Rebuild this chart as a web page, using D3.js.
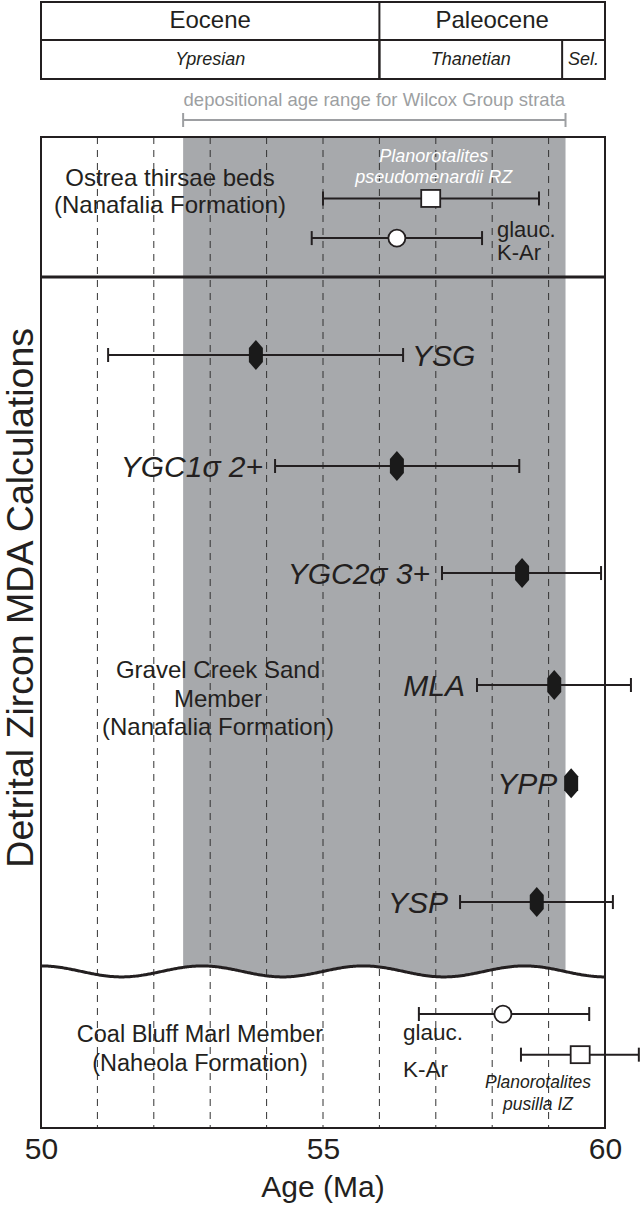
<!DOCTYPE html>
<html><head><meta charset="utf-8">
<script src="https://cdn.jsdelivr.net/npm/d3@7"></script>
<style>body{margin:0;background:#fff}svg{display:block}text{font-family:"Liberation Sans",Arial,Helvetica,sans-serif}</style>
</head><body><svg id="c" width="641" height="1206"></svg>
<script>
// ---- data ----
const ageTicks = [50, 55, 60];
const gridAges = [51, 52, 53, 54, 55, 56, 57, 58, 59];
const epochs = ["Eocene", "Paleocene"];
const epochStart = [50, 56.0];
const epochEnd = [56.0, 60];
const stages = ["Ypresian", "Thanetian", "Sel."];
const stageStart = [50, 56.0, 59.24];
const stageEnd = [56.0, 59.24, 60];
const wilcoxRange = [52.52, 59.3];

// MDA calculations (Ma); level = vertical position in % of plot frame
const mdaLabels = ["YSG", "YGC1σ 2+", "YGC2σ 3+", "MLA", "YPP", "YSP"];
const mdaAge  = [53.81, 56.31, 58.53, 59.10, 59.40, 58.79];
const mdaLow  = [51.19, 54.15, 57.11, 57.73, null, 57.43];
const mdaHigh = [56.42, 58.48, 59.93, 60.46, null, 60.14];
const mdaLevel = [22.0, 33.2, 44.0, 55.3, 65.2, 77.2];

// biostratigraphic / glauconite ages
const refNames  = ["Planorotalites pseudomenardii RZ", "glauc. K-Ar (Ostrea)", "glauc. K-Ar (Coal Bluff)", "Planorotalites pusilla IZ"];
const refShape  = ["square", "circle", "circle", "square"];
const refAge    = [56.91, 56.31, 58.19, 59.56];
const refLow    = [55.00, 54.80, 56.70, 58.51];
const refHigh   = [58.83, 57.82, 59.72, 60.60];
const refLevel  = [6.2, 10.2, 88.5, 92.6];

const dividerLevel = 14.13;
const waveLevel = 84.2;

// ---- layout ----
const svg = d3.select("#c");
const L = 41, R = 605, T = 137, B = 1128;
const x = d3.scaleLinear().domain([50, 60]).range([L, R]);
const y = d3.scaleLinear().domain([0, 100]).range([T, B]);
const ink = "#231f20";
const font = '"Liberation Sans",Arial,Helvetica,sans-serif';

// header table
const hTop = 2, hMid = 40, hBot = 79;
const hdr = svg.append("g");
hdr.append("rect").attr("x", x(50)).attr("y", hTop).attr("width", x(60) - x(50)).attr("height", hBot - hTop)
  .attr("fill", "none").attr("stroke", ink).attr("stroke-width", 2);
hdr.append("line").attr("x1", x(50)).attr("x2", x(60)).attr("y1", hMid).attr("y2", hMid).attr("stroke", ink).attr("stroke-width", 2);
epochEnd.slice(0, -1).forEach(v => hdr.append("line").attr("x1", x(v)).attr("x2", x(v)).attr("y1", hTop).attr("y2", hBot).attr("stroke", ink).attr("stroke-width", 2));
stageEnd.slice(0, -1).forEach(v => hdr.append("line").attr("x1", x(v)).attr("x2", x(v)).attr("y1", hMid).attr("y2", hBot).attr("stroke", ink).attr("stroke-width", 2));
hdr.selectAll("text.ep").data(epochs).join("text").attr("class", "ep")
  .attr("x", (d, i) => (x(epochStart[i]) + x(epochEnd[i])) / 2).attr("y", 28)
  .attr("text-anchor", "middle").attr("font-size", 24).attr("fill", ink).text(d => d);
hdr.selectAll("text.st").data(stages).join("text").attr("class", "st")
  .attr("x", (d, i) => (x(stageStart[i]) + x(stageEnd[i])) / 2).attr("y", 65)
  .attr("text-anchor", "middle").attr("font-size", 18).attr("font-style", "italic").attr("fill", ink).text(d => d);

// wilcox range bracket
const brY = 120;
const gb = "#9d9fa2";
svg.append("text").attr("x", (x(wilcoxRange[0]) + x(wilcoxRange[1])) / 2).attr("y", 106)
  .attr("text-anchor", "middle").attr("font-size", 18.5).attr("fill", gb).text("depositional age range for Wilcox Group strata");
svg.append("line").attr("x1", x(wilcoxRange[0])).attr("x2", x(wilcoxRange[1])).attr("y1", brY).attr("y2", brY).attr("stroke", gb).attr("stroke-width", 2);
wilcoxRange.forEach(v => svg.append("line").attr("x1", x(v)).attr("x2", x(v)).attr("y1", brY - 7).attr("y2", brY + 7).attr("stroke", gb).attr("stroke-width", 2));

// gray band
const waveY = y(waveLevel);
svg.append("rect").attr("x", x(wilcoxRange[0])).attr("y", T).attr("width", x(wilcoxRange[1]) - x(wilcoxRange[0]))
  .attr("height", waveY + 10 - T).attr("fill", "#a7a9ac");

// wave
const period = (R - L) / 3.5, amp = 5.5;
const wavePts = d3.range(L, R + 0.5, 2).map(px => [px, waveY - amp * Math.cos(2 * Math.PI * (px - L) / period)]);
const area = d3.area().x(d => d[0]).y0(d => d[1]).y1(B).curve(d3.curveBasis);
svg.append("path").attr("d", area(wavePts)).attr("fill", "#fff");

// dashed grid
svg.selectAll("line.grid").data(gridAges).join("line").attr("class", "grid")
  .attr("x1", d => x(d)).attr("x2", d => x(d)).attr("y1", T).attr("y2", B)
  .attr("stroke", "#333").attr("stroke-width", 1).attr("stroke-dasharray", "7,6");

// wave line
svg.append("path").attr("d", d3.line().curve(d3.curveBasis)(wavePts)).attr("fill", "none").attr("stroke", ink).attr("stroke-width", 3);

// frame + divider
svg.append("rect").attr("x", L).attr("y", T).attr("width", R - L).attr("height", B - T).attr("fill", "none").attr("stroke", ink).attr("stroke-width", 2);
svg.append("line").attr("x1", L).attr("x2", R).attr("y1", y(dividerLevel)).attr("y2", y(dividerLevel)).attr("stroke", ink).attr("stroke-width", 3);

// error bars helper
function errBar(g, lo, hi, yy) {
  g.append("line").attr("x1", x(lo)).attr("x2", x(hi)).attr("y1", yy).attr("y2", yy).attr("stroke", ink).attr("stroke-width", 2);
  [lo, hi].forEach(v => g.append("line").attr("x1", x(v)).attr("x2", x(v)).attr("y1", yy - 7).attr("y2", yy + 7).attr("stroke", ink).attr("stroke-width", 2));
}

// reference ages
const refG = svg.append("g");
refAge.forEach((a, i) => {
  const yy = y(refLevel[i]);
  errBar(refG, refLow[i], refHigh[i], yy);
  if (refShape[i] === "circle") {
    refG.append("circle").attr("cx", x(a)).attr("cy", yy).attr("r", 8.5).attr("fill", "#fff").attr("stroke", ink).attr("stroke-width", 1.8);
  } else {
    refG.append("rect").attr("x", x(a) - 9.5).attr("y", yy - 8.5).attr("width", 19).attr("height", 17).attr("fill", "#fff").attr("stroke", ink).attr("stroke-width", 1.8);
  }
});

// MDA diamonds
const mdaG = svg.append("g");
const hex = (cx, cy) => `M${cx},${cy - 15}L${cx + 7},${cy - 7}L${cx + 7},${cy + 7}L${cx},${cy + 15}L${cx - 7},${cy + 7}L${cx - 7},${cy - 7}Z`;
mdaAge.forEach((a, i) => {
  const yy = y(mdaLevel[i]);
  if (mdaLow[i] != null) errBar(mdaG, mdaLow[i], mdaHigh[i], yy);
  mdaG.append("path").attr("d", hex(x(a), yy)).attr("fill", "#1a1a1a");
  const t = mdaG.append("text").attr("y", yy + 11).attr("font-size", 30).attr("font-style", "italic").attr("fill", ink).text(mdaLabels[i]);
  if (i === 0) t.attr("x", x(mdaHigh[i]) + 9).attr("text-anchor", "start");
  else if (mdaLow[i] == null) t.attr("x", x(a) - 14).attr("text-anchor", "end");
  else t.attr("x", x(mdaLow[i]) - 12).attr("text-anchor", "end");
});

// annotations
function lines(arr, cx, y0, dy, size, opts = {}) {
  arr.forEach((s, i) => {
    const t = svg.append("text").attr("x", cx).attr("y", y0 + i * dy).attr("font-size", size)
      .attr("text-anchor", opts.anchor || "middle").attr("fill", opts.fill || ink).text(s);
    if (opts.italic) t.attr("font-style", "italic");
  });
}
lines(["Ostrea thirsae beds", "(Nanafalia Formation)"], 170, 186, 27, 24);
lines(["Planorotalites", "pseudomenardii RZ"], x(refAge[0]) + 3, 162, 21, 18, {italic: true, fill: "#fff"});
lines(["glauc.", "K-Ar"], 497, 237, 23, 22, {anchor: "start"});
lines(["Gravel Creek Sand", "Member", "(Nanafalia Formation)"], 218, 678, 28.5, 24);
lines(["Coal Bluff Marl Member", "(Naheola Formation)"], 200, 1042, 29, 23.5);
lines(["glauc.", "K-Ar"], 403, 1040, 37, 22.5, {anchor: "start"});
lines(["Planorotalites", "pusilla IZ"], 538, 1088, 22, 17.5, {italic: true});

// axis
const ax = d3.axisBottom(x).tickValues(ageTicks).tickSize(0).tickPadding(10).tickFormat(d3.format("d"));
const axG = svg.append("g").attr("transform", `translate(0,${B})`).call(ax);
axG.select(".domain").remove();
axG.selectAll("text").attr("font-size", 30).attr("font-family", font).attr("fill", ink);
svg.append("text").attr("x", x(55)).attr("y", 1197).attr("text-anchor", "middle").attr("font-size", 30).attr("fill", ink).text("Age (Ma)");
svg.append("text").attr("transform", `translate(33,${y(46.5)}) rotate(-90)`).attr("text-anchor", "middle").attr("font-size", 37.5).attr("fill", ink).text("Detrital Zircon MDA Calculations");
</script></body></html>
